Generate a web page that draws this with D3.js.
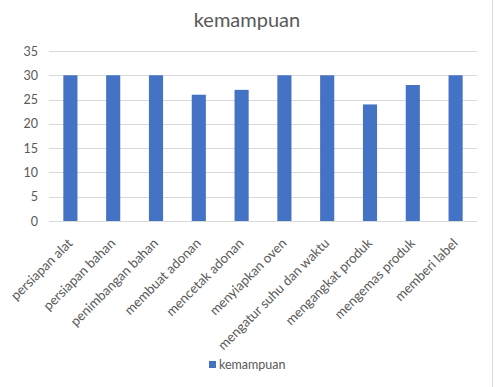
<!DOCTYPE html>
<html>
<head>
<meta charset="utf-8">
<script src="https://cdn.jsdelivr.net/npm/d3@7"></script>
<style>
  body { margin: 0; background: #fff; }
  text { font-family: Lato, "Open Sans", sans-serif; fill: #595959; }
</style>
</head>
<body>
<div id="chart"></div>
<script>
var categories = ["persiapan alat", "persiapan bahan", "penimbangan bahan", "membuat adonan",
  "mencetak adonan", "menyiapkan oven", "mengatur suhu dan waktu", "mengangkat produk",
  "mengemas produk", "memberi label"];
var values = [30, 30, 30, 26, 27, 30, 30, 24, 28, 30];
var yTicks = [0, 5, 10, 15, 20, 25, 30, 35];
var seriesName = "kemampuan";

var svgWidth = 497;
var svgHeight = 387;

var svg = d3.select("#chart")
  .append("svg")
  .attr("width", svgWidth)
  .attr("height", svgHeight);

// chart border on the right
svg.append("line")
  .attr("x1", 492.5).attr("x2", 492.5)
  .attr("y1", 0).attr("y2", svgHeight)
  .attr("stroke", "#d9d9d9");

var x = d3.scaleBand()
  .domain(categories)
  .range([49, 477])
  .paddingInner(0.67)
  .paddingOuter(0.335);

var y = d3.scaleLinear()
  .domain([0, 35])
  .range([221, 51]);

// gridlines
svg.selectAll(".grid")
  .data(yTicks)
  .enter()
  .append("line")
  .attr("x1", 49)
  .attr("x2", 477)
  .attr("y1", function(d) { return Math.round(y(d)) + 0.5; })
  .attr("y2", function(d) { return Math.round(y(d)) + 0.5; })
  .attr("stroke", "#d9d9d9");

// y axis labels
var yAxis = svg.append("g")
  .attr("transform", "translate(49,0)")
  .call(d3.axisLeft(y).tickValues(yTicks).tickSize(0).tickPadding(11));
yAxis.select(".domain").remove();
yAxis.selectAll("text")
  .style("font-family", "Lato, sans-serif")
  .style("font-size", "12.5px")
  .attr("fill", "#595959");

// bars
svg.selectAll(".bar")
  .data(values)
  .enter()
  .append("rect")
  .attr("x", function(d, i) { return x(categories[i]); })
  .attr("y", function(d) { return y(d); })
  .attr("width", x.bandwidth())
  .attr("height", function(d) { return y(0) - y(d); })
  .attr("fill", "#4472c4");

// x labels, rotated
svg.selectAll(".xlabel")
  .data(categories)
  .enter()
  .append("text")
  .attr("text-anchor", "end")
  .attr("font-size", "13.3px")
  .attr("transform", function(d) {
    return "translate(" + (x(d) + x.bandwidth() / 2 + 3) + ",244) rotate(-45)";
  })
  .text(function(d) { return d; });

// title
svg.append("text")
  .attr("x", 247)
  .attr("y", 27)
  .attr("text-anchor", "middle")
  .attr("font-size", "20px")
  .text(seriesName);

// legend
svg.append("rect")
  .attr("x", 209)
  .attr("y", 361)
  .attr("width", 7)
  .attr("height", 7)
  .attr("fill", "#4472c4");
svg.append("text")
  .attr("x", 219)
  .attr("y", 369)
  .attr("font-size", "12.5px")
  .text(seriesName);
</script>
</body>
</html>
